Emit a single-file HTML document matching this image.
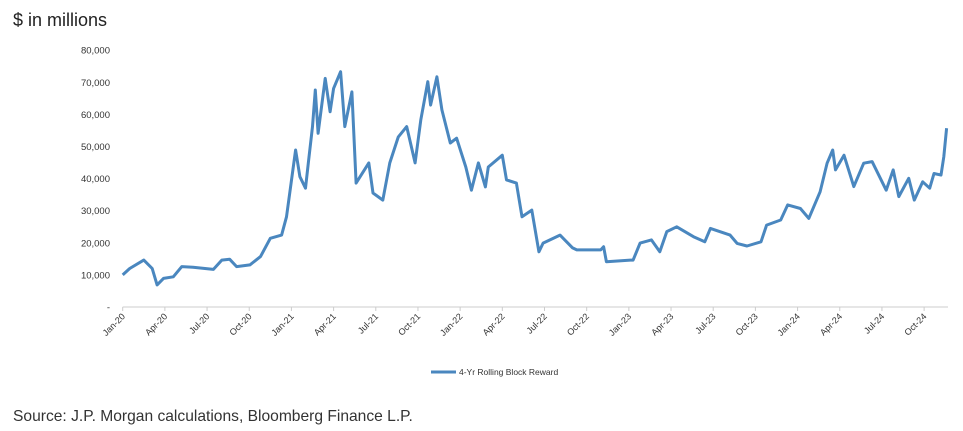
<!DOCTYPE html>
<html><head><meta charset="utf-8"><style>
body{margin:0;background:#fff;font-family:"Liberation Sans",sans-serif;}
svg{display:block}
</style></head><body>
<svg width="963" height="431">
<text x="13" y="26" font-size="18" fill="#222">$ in millions</text>
<g id="yaxis"></g>
<g id="xaxis"></g>
<g id="plot"></g>
<g>
<line x1="431" y1="372" x2="456" y2="372" stroke="#4a87bf" stroke-width="3"/>
<text x="459" y="375" font-size="8.5" fill="#333">4-Yr Rolling Block Reward</text>
</g>
<text x="13" y="421" font-size="15.6" fill="#333">Source: J.P. Morgan calculations, Bloomberg Finance L.P.</text>
</svg>
<script>
const yTicks=[0,10000,20000,30000,40000,50000,60000,70000,80000];
const yTickLabels=["-","10,000","20,000","30,000","40,000","50,000","60,000","70,000","80,000"];
const xTickLabels=["Jan-20","Apr-20","Jul-20","Oct-20","Jan-21","Apr-21","Jul-21","Oct-21","Jan-22","Apr-22","Jul-22","Oct-22","Jan-23","Apr-23","Jul-23","Oct-23","Jan-24","Apr-24","Jul-24","Oct-24"];
// months since Jan-2020
const monthIdx=[0,0.5,1.5,2.1,2.45,2.9,3.6,4.2,5.0,6.45,7.05,7.6,8.1,9.05,9.8,10.5,11.3,11.65,12.3,12.6,13.0,13.2,13.5,13.7,13.9,14.4,14.75,15.0,15.5,15.8,16.3,16.6,17.5,17.8,18.5,19.0,19.6,20.2,20.8,21.2,21.7,21.9,22.35,22.7,23.3,23.75,24.4,24.8,25.3,25.8,26.0,27.0,27.3,28.0,28.4,29.1,29.6,29.9,31.1,32.0,32.3,34.0,34.2,34.4,36.1,36.3,36.8,37.6,38.2,38.7,39.4,40.6,41.4,41.8,43.2,43.7,44.4,45.4,45.8,46.8,47.3,48.2,48.8,49.6,50.1,50.5,50.7,51.3,52.0,52.7,53.3,54.3,54.8,55.2,55.9,56.3,56.9,57.4,57.7,58.2,58.4,58.6];
const rewardValues=[10000,12000,14600,12000,6900,8900,9400,12600,12400,11700,14600,14900,12600,13100,15700,21400,22400,28100,48900,40600,37000,44800,56200,67600,54100,71200,60800,68100,73300,56200,67000,38600,44900,35500,33300,44900,53000,56200,44900,58300,70200,62900,71700,61400,51100,52600,43600,36400,44900,37400,43600,47300,39600,38600,28100,30200,17200,19900,22400,18400,17800,17800,18800,14100,14600,14600,19900,20900,17200,23500,25000,21900,20300,24500,22400,19800,19000,20300,25500,27100,31800,30700,27600,35900,44800,48900,42700,47300,37500,44800,45300,36400,42700,34400,40100,33300,39000,37000,41600,41100,46800,55700];
const NS="http://www.w3.org/2000/svg";
const x0=122.7,mPx=14.06,y0=307,vPx=32.1/10000;
const xs=m=>x0+m*mPx, ys=v=>y0-v*vPx;
const ya=document.getElementById('yaxis');
yTicks.forEach((t,i)=>{const e=document.createElementNS(NS,'text');
e.setAttribute('x',110);e.setAttribute('y',ys(t)+3.5);e.setAttribute('text-anchor','end');
e.setAttribute('font-size','9.5');e.setAttribute('fill','#333');e.textContent=yTickLabels[i];


ya.appendChild(e);});
const xa=document.getElementById('xaxis');
const ax=document.createElementNS(NS,'line');
ax.setAttribute('x1',x0);ax.setAttribute('x2',948);ax.setAttribute('y1',y0);ax.setAttribute('y2',y0);ax.setAttribute('stroke','#ccc');


xa.appendChild(ax);
xTickLabels.forEach((l,i)=>{const x=xs(i*3);
const tk=document.createElementNS(NS,'line');tk.setAttribute('x1',x);tk.setAttribute('x2',x);tk.setAttribute('y1',y0);tk.setAttribute('y2',y0+4);tk.setAttribute('stroke','#ccc');


xa.appendChild(tk);
const e=document.createElementNS(NS,'text');
e.setAttribute('transform',`translate(${x+3},${y0+10}) rotate(-45)`);e.setAttribute('text-anchor','end');
e.setAttribute('font-size','9');e.setAttribute('fill','#333');e.textContent=l;


xa.appendChild(e);});
const p=document.createElementNS(NS,'polyline');
p.setAttribute('points',monthIdx.map((m,i)=>xs(m).toFixed(1)+','+ys(rewardValues[i]).toFixed(1)).join(' '));
p.setAttribute('fill','none');p.setAttribute('stroke','#4a87bf');p.setAttribute('stroke-width','3');p.setAttribute('stroke-linejoin','round');


document.getElementById('plot').appendChild(p);
</script>
</body></html>
